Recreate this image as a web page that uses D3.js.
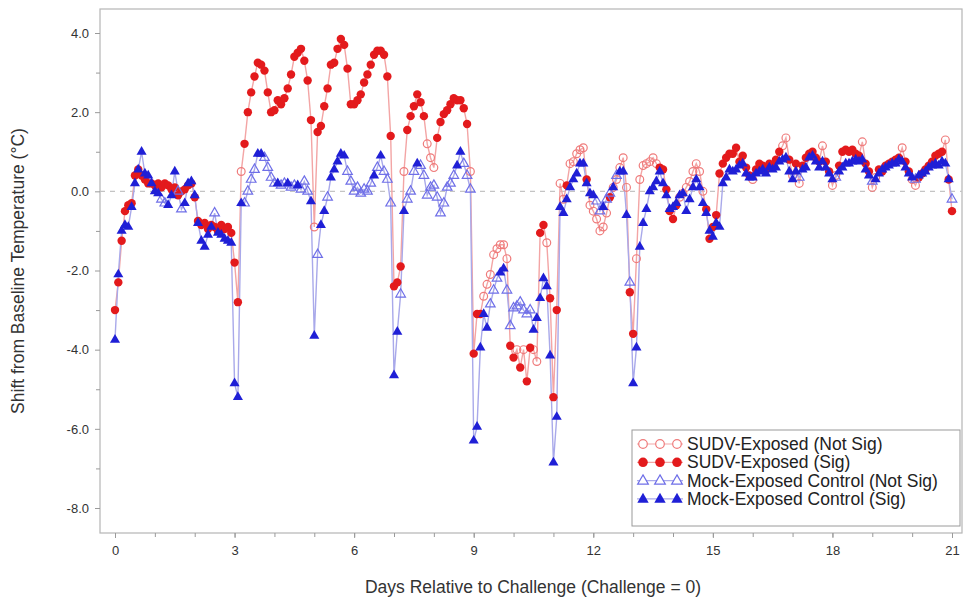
<!DOCTYPE html>
<html>
<head>
<meta charset="utf-8">
<script src="https://cdn.jsdelivr.net/npm/d3@7"></script>
<style>
  html, body { margin: 0; padding: 0; background: #fff; }
  svg { display: block; font-family: Arial, "Liberation Sans", sans-serif; }
</style>
</head>
<body>
<svg id="chart" width="965" height="604"></svg>
<script>
// ---------------- DATA ----------------
// Readings every 2 hours, day 0 .. day 21 (12 readings per day)
const readingsPerDay = 12;
const dayCount = 21;

const sudvShift = [
  -3.0, -2.3, -1.25, -0.5, -0.35, -0.3, 0.4, 0.55, 0.4, 0.3, 0.2, 0.2,
  0.15, 0.2, 0.1, 0.2, 0.15, 0.05, 0.1, -0.1, 0.0, 0.05, 0.15, 0.2,
  -0.15, -0.75, -0.85, -0.8, -0.95, -0.85, -0.9, -1.0, -0.85, -0.95, -0.9, -1.05,
  -1.8, -2.8, 0.5, 1.2, 2.0, 2.5, 2.9, 3.25, 3.2, 3.05, 2.5, 2.0,
  2.05, 2.3, 2.2, 2.35, 2.6, 2.95, 3.4, 3.5, 3.6, 3.3, 2.8, 1.8,
  -0.9, 1.5, 1.65, 2.15, 2.6, 3.2, 3.25, 3.6, 3.85, 3.7, 3.1, 2.2,
  2.2, 2.3, 2.45, 2.75, 2.95, 3.2, 3.45, 3.55, 3.55, 3.45, 2.9, 1.4,
  -2.4, -2.3, -1.9, 0.5, 1.55, 1.9, 2.15, 2.45, 2.25, 1.9, 1.2, 0.85,
  0.6, 1.35, 1.75, 1.95, 2.05, 2.2, 2.35, 2.3, 2.3, 2.1, 1.7, 0.5,
  -4.1, -3.1, -3.1, -2.65, -2.35, -2.1, -1.6, -1.45, -1.35, -1.35, -1.7, -3.9,
  -4.2, -4.0, -4.45, -4.0, -4.8, -3.95, -4.0, -4.3, -1.05, -0.85, -1.3, -2.7,
  -5.2, -3.0, 0.2, -0.2, 0.15, 0.7, 0.75, 0.95, 1.05, 1.1, 0.3, -0.35,
  -0.5, -0.7, -1.0, -0.9, -0.55, -0.15, 0.1, 0.3, 0.6, 0.85, 0.1, -2.55,
  -3.6, -1.7, 0.3, 0.65, 0.7, 0.75, 0.85, 0.7, 0.6, 0.55, 0.05, -0.5,
  -0.7, -0.35, -0.15, -0.05, 0.1, 0.25, 0.5, 0.7, 0.5, 0.0, -0.45, -1.2,
  -0.9, -0.6, 0.45, 0.7, 0.85, 0.95, 0.95, 1.1, 0.75, 0.9, 0.6, 0.4,
  0.3, 0.55, 0.7, 0.65, 0.55, 0.7, 0.65, 0.8, 1.0, 1.15, 1.35, 0.8,
  0.4, 0.7, 0.2, 0.65, 0.85, 0.95, 1.0, 0.85, 0.75, 1.15, 0.75, 0.5,
  0.15, 0.4, 0.65, 1.0, 1.05, 1.0, 1.05, 0.95, 0.9, 1.25, 0.7, 0.5,
  0.1, 0.35, 0.55, 0.5, 0.65, 0.7, 0.75, 0.8, 0.85, 1.1, 0.75, 0.5,
  0.3, 0.15, 0.35, 0.45, 0.55, 0.65, 0.75, 0.9, 0.95, 1.0, 1.3, 0.3,
  -0.5
];
// 1 = significant (filled), 0 = not significant (open); one group per day
const sudvSig = (
  "111111111111 111111111111 111111111111 110111111111 111111111111 " +
  "011111111111 111111111111 111011111100 011111111110 111000000001 " +
  "101011001101 110010000010 000001000001 100000001111 110000000011 " +
  "111111111111 011111111001 010111111011 001111111011 001111111011 " +
  "001111111101 1").replace(/ /g, "");

const mockShift = [
  -3.75, -2.1, -1.0, -0.85, -0.9, -0.4, 0.2, 0.55, 1.0, 0.45, 0.4, 0.2,
  0.0, -0.05, -0.2, -0.3, -0.35, -0.1, 0.5, 0.0, -0.45, -0.3, 0.2, 0.25,
  -0.1, -0.8, -1.25, -1.4, -1.1, -0.9, -0.55, -1.05, -1.1, -1.2, -1.25, -1.3,
  -4.85, -5.2, -0.3, -0.3, 0.0, 0.3, 0.55, 0.95, 0.95, 0.85, 0.6, 0.35,
  0.2, 0.2, 0.15, 0.2, 0.2, 0.1, 0.15, 0.15, 0.05, 0.25, 0.0, -0.25,
  -3.65, -1.6, -0.85, -0.5, -0.15, 0.35, 0.55, 0.75, 0.95, 0.9, 0.5, 0.25,
  0.0, 0.1, -0.05, 0.05, 0.0, 0.2, 0.4, 0.6, 0.9, 0.5, 0.3, -0.3,
  -4.65, -3.55, -2.6, -0.5, -0.2, 0.0, 0.5, 0.7, 0.65, 0.4, -0.1, 0.1,
  0.15, -0.15, -0.55, -0.3, 0.1, 0.2, 0.4, 0.65, 1.0, 0.7, 0.4, 0.05,
  -6.3, -5.95, -3.95, -3.1, -3.45, -2.85, -2.5, -2.2, -2.05, -1.95, -2.5, -3.4,
  -2.95, -2.9, -2.8, -3.0, -3.1, -3.0, -3.5, -3.2, -2.7, -2.2, -2.4, -4.15,
  -6.85, -5.7, -0.4, -0.55, -0.2, 0.1, 0.3, 0.45, 0.7, 0.7, 0.2, -0.05,
  -0.1, -0.25, -0.5, -0.4, -0.2, -0.05, 0.1, 0.4, 0.5, 0.5, -0.6, -2.3,
  -4.85, -3.95, -1.4, -0.8, -0.45, 0.0, 0.1, 0.25, 0.5, 0.2, -0.1, -0.45,
  -0.4, -0.3, -0.1, -0.05, -0.5, -0.2, 0.1, 0.3, 0.1, -0.3, -0.55, -1.0,
  -1.15, -0.8, -0.9, 0.2, 0.35, 0.55, 0.5, 0.55, 0.65, 0.7, 0.45, 0.35,
  0.35, 0.45, 0.5, 0.55, 0.45, 0.6, 0.55, 0.6, 0.75, 0.8, 0.85, 0.5,
  0.3, 0.5, 0.35, 0.55, 0.6, 0.85, 0.9, 0.75, 0.6, 0.75, 0.6, 0.45,
  0.3, 0.35, 0.5, 0.6, 0.7, 0.7, 0.75, 0.8, 0.75, 0.8, 0.55, 0.4,
  0.25, 0.3, 0.45, 0.55, 0.6, 0.65, 0.7, 0.7, 0.8, 0.75, 0.6, 0.45,
  0.35, 0.3, 0.4, 0.45, 0.5, 0.6, 0.65, 0.7, 0.65, 0.75, 0.7, 0.3,
  -0.2
];
const mockSig = (
  "111111111111 110011100111 111111011111 111000011000 010010010001 " +
  "101101111100 000000101000 110100010000 000000011000 111110001100 " +
  "000000111111 111111111111 100100101110 111111111111 111111111111 " +
  "111111111111 111111111111 110111111111 101111111111 011111111111 " +
  "101111111111 0").replace(/ /g, "");

const xTickLabels = [0, 3, 6, 9, 12, 15, 18, 21];
const yTickLabels = [4, 2, 0, -2, -4, -6, -8];
const legendLabels = [
  "SUDV-Exposed (Not Sig)",
  "SUDV-Exposed (Sig)",
  "Mock-Exposed Control (Not Sig)",
  "Mock-Exposed Control (Sig)"
];
const xTitle = "Days Relative to Challenge (Challenge = 0)";
const yTitle = "Shift from Baseline Temperature (\u00B0C)";

// ---------------- LAYOUT ----------------
const frame = { left: 100, right: 962, top: 9, bottom: 533 };
const svg = d3.select("#chart");

const x = d3.scaleLinear().domain([0, 21]).range([115, 952]);
const y = d3.scaleLinear().domain([-8, 4]).range([508, 33]);

const RED = "#e31a1c", RED_LIGHT = "#ef7b7b", RED_LINE = "#f3a5a5";
const BLUE = "#1f1fd6", BLUE_LIGHT = "#6f6fe8", BLUE_LINE = "#a9a9ea";

const toPoints = (vals, sig) => vals.map((v, i) => ({ t: i / readingsPerDay, v, s: sig[i] === "1" }));
const sudv = toPoints(sudvShift, sudvSig);
const mock = toPoints(mockShift, mockSig);

// frame
svg.append("rect")
  .attr("x", frame.left).attr("y", frame.top)
  .attr("width", frame.right - frame.left).attr("height", frame.bottom - frame.top)
  .attr("fill", "#fff").attr("stroke", "#b5b5b5").attr("stroke-width", 1.2);

// zero reference
svg.append("line")
  .attr("x1", frame.left).attr("x2", frame.right)
  .attr("y1", y(0)).attr("y2", y(0))
  .attr("stroke", "#c4c4c4").attr("stroke-width", 1.2).attr("stroke-dasharray", "5,5");

// axes
const tickStyle = g => {
  g.select(".domain").remove();
  g.selectAll(".tick line").attr("stroke", "#9a9a9a");
  g.selectAll(".tick text").attr("fill", "#333").attr("font-size", 13)
    .attr("font-family", "Arial, 'Liberation Sans', sans-serif");
};
svg.append("g").attr("transform", `translate(0,${frame.bottom})`)
  .call(d3.axisBottom(x).tickValues(d3.range(0, dayCount + 1)).tickFormat("").tickSize(4))
  .call(tickStyle);
svg.append("g").attr("transform", `translate(0,${frame.bottom})`)
  .call(d3.axisBottom(x).tickValues(xTickLabels).tickFormat(d3.format("d")).tickSize(5).tickPadding(8))
  .call(tickStyle);
svg.append("g").attr("transform", `translate(${frame.left},0)`)
  .call(d3.axisLeft(y).tickValues(d3.range(-7, 4, 2)).tickFormat("").tickSize(4))
  .call(tickStyle);
svg.append("g").attr("transform", `translate(${frame.left},0)`)
  .call(d3.axisLeft(y).tickValues(yTickLabels).tickFormat(d => d.toFixed(1)).tickSize(5).tickPadding(6))
  .call(tickStyle);

// titles
svg.append("text").attr("x", (frame.left + frame.right) / 2 + 2).attr("y", 593)
  .attr("text-anchor", "middle").attr("font-size", 17.5).attr("fill", "#333").text(xTitle);
svg.append("text").attr("transform", `translate(24,${(frame.top + frame.bottom) / 2}) rotate(-90)`)
  .attr("text-anchor", "middle").attr("font-size", 17.5).attr("fill", "#333").text(yTitle);

// lines
const line = d3.line().x(d => x(d.t)).y(d => y(d.v));
svg.append("path").datum(sudv).attr("d", line)
  .attr("fill", "none").attr("stroke", RED_LINE).attr("stroke-width", 1.4);
svg.append("path").datum(mock).attr("d", line)
  .attr("fill", "none").attr("stroke", BLUE_LINE).attr("stroke-width", 1.4);

// markers
const tri = d3.symbol().type(d3.symbolTriangle).size(44);
const triOpen = d3.symbol().type(d3.symbolTriangle).size(40);

svg.append("g").selectAll("circle").data(sudv.filter(d => !d.s)).join("circle")
  .attr("cx", d => x(d.t)).attr("cy", d => y(d.v)).attr("r", 3.9)
  .attr("fill", "none").attr("stroke", RED_LIGHT).attr("stroke-width", 1.2);
svg.append("g").selectAll("circle").data(sudv.filter(d => d.s)).join("circle")
  .attr("cx", d => x(d.t)).attr("cy", d => y(d.v)).attr("r", 4.2)
  .attr("fill", RED);
svg.append("g").selectAll("path").data(mock.filter(d => !d.s)).join("path")
  .attr("transform", d => `translate(${x(d.t)},${y(d.v)})`).attr("d", triOpen)
  .attr("fill", "none").attr("stroke", BLUE_LIGHT).attr("stroke-width", 1.2);
svg.append("g").selectAll("path").data(mock.filter(d => d.s)).join("path")
  .attr("transform", d => `translate(${x(d.t)},${y(d.v)})`).attr("d", tri)
  .attr("fill", BLUE);

// legend
const lg = svg.append("g");
lg.append("rect").attr("x", 632).attr("y", 430).attr("width", 328).attr("height", 96)
  .attr("fill", "#fff").attr("stroke", "#9a9a9a").attr("stroke-width", 1);
const legendRows = [
  { kind: "circle", sig: false }, { kind: "circle", sig: true },
  { kind: "tri", sig: false }, { kind: "tri", sig: true }
];
legendRows.forEach((r, i) => {
  const cy = 444 + i * 18.3;
  const g = lg.append("g");
  g.append("line").attr("x1", 637).attr("x2", 683).attr("y1", cy).attr("y2", cy)
    .attr("stroke", r.kind === "circle" ? RED_LINE : BLUE_LINE).attr("stroke-width", 1.2);
  [643, 660, 677].forEach(cx => {
    if (r.kind === "circle") {
      g.append("circle").attr("cx", cx).attr("cy", cy).attr("r", r.sig ? 4.8 : 4.3)
        .attr("fill", r.sig ? RED : "#fff").attr("stroke", r.sig ? "none" : RED_LIGHT).attr("stroke-width", 1.2);
    } else {
      g.append("path").attr("transform", `translate(${cx},${cy + 0.5})`)
        .attr("d", d3.symbol().type(d3.symbolTriangle).size(r.sig ? 56 : 50)())
        .attr("fill", r.sig ? BLUE : "#fff").attr("stroke", r.sig ? "none" : BLUE_LIGHT).attr("stroke-width", 1.2);
    }
  });
  g.append("text").attr("x", 687).attr("y", cy + 6).attr("font-size", 17.5).attr("fill", "#222")
    .text(legendLabels[i]);
});
</script>
</body>
</html>
